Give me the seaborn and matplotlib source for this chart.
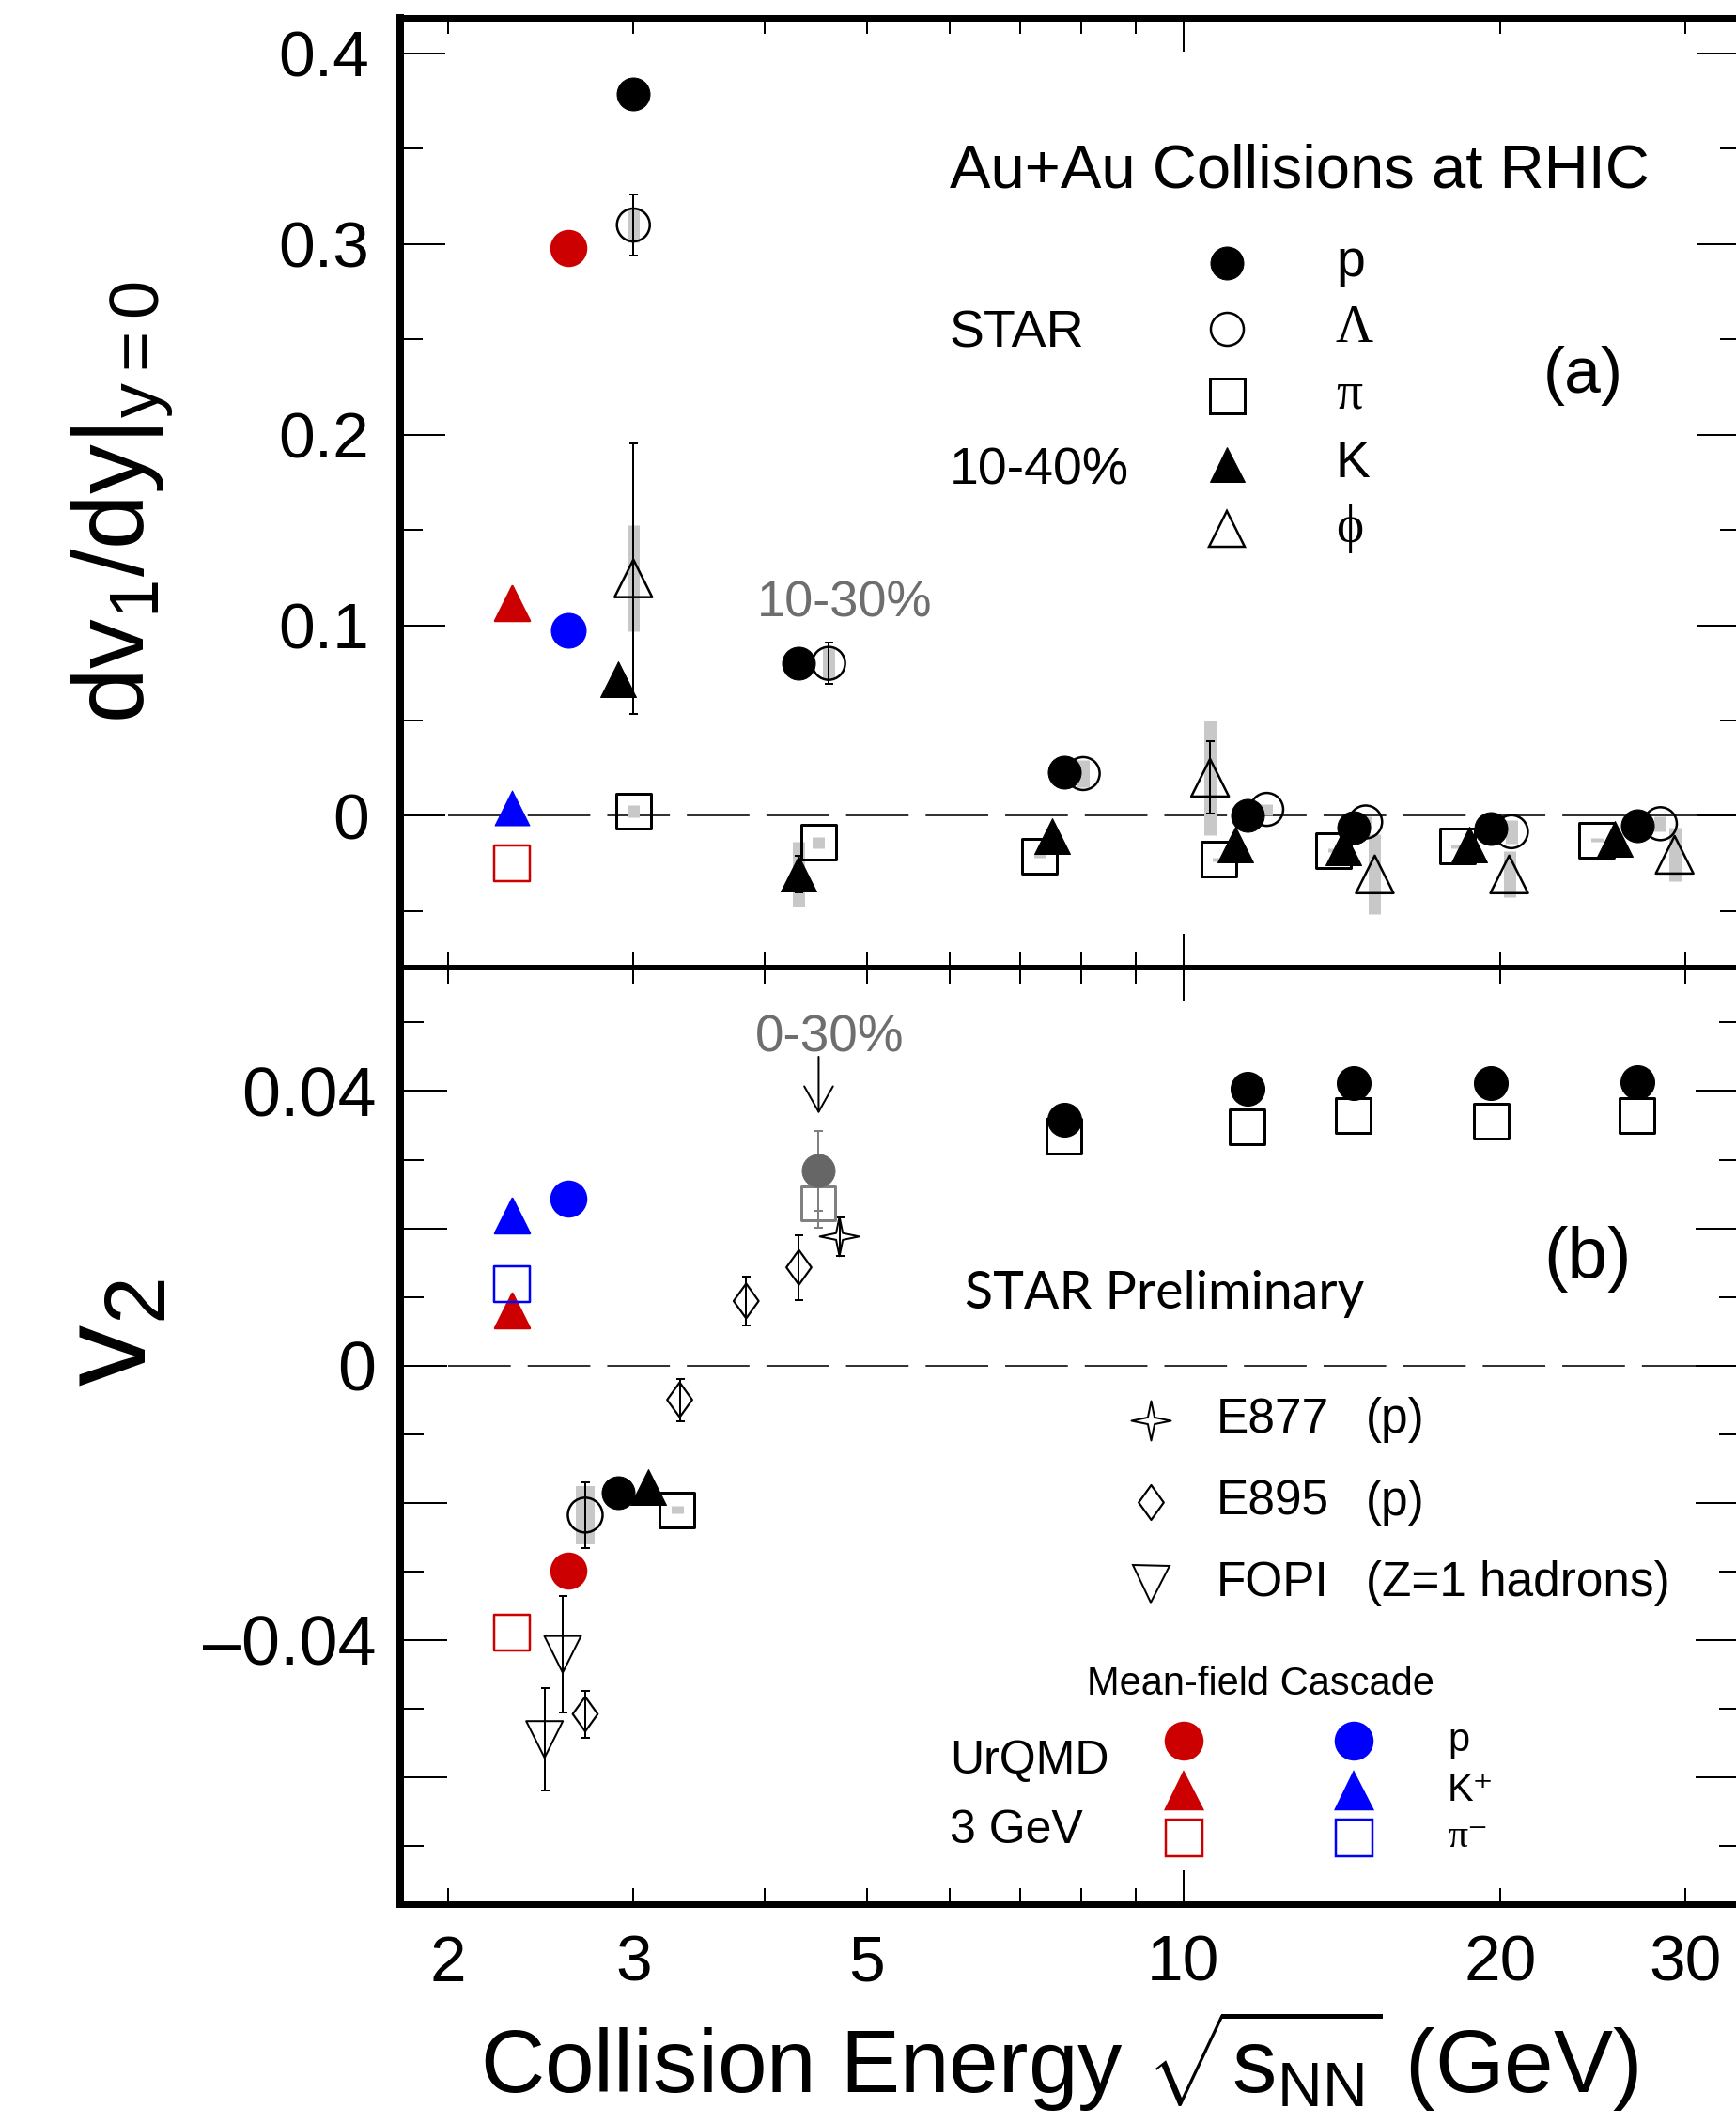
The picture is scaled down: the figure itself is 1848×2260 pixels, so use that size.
import numpy as np
import pandas as pd
import matplotlib
matplotlib.use("Agg")
import matplotlib.pyplot as plt
from matplotlib.path import Path
from matplotlib.lines import Line2D
from matplotlib.ticker import FixedLocator, MultipleLocator, FuncFormatter, NullFormatter
import seaborn as sns

# ---------------------------------------------------------------- data
# Panel (a): dv1/dy|y=0 , STAR 10-40% (10-30% at ~4.5 GeV)
p_a_E = [3.0, 4.31, 7.7, 11.5, 14.5, 19.6, 27.0]
p_a_v = [0.379, 0.080, 0.0228, 0.0004, -0.0062, -0.0068, -0.0053]

lam_a_E = [3.0, 4.6, 8.03, 12.0, 14.9, 20.5, 28.4]
lam_a_v = [0.310, 0.080, 0.0222, 0.0034, -0.0032, -0.0083, -0.0041]
lam_a_stat = [0.016, 0.011, 0.0, 0.0, 0.0, 0.0, 0.0]
lam_a_sys = [0.009, 0.008, 0.007, 0.003, 0.003, 0.006, 0.004]

pi_a_E = [3.0, 4.5, 7.3, 10.8, 13.9, 18.2, 24.7]
pi_a_v = [0.0025, -0.0139, -0.0211, -0.0227, -0.0181, -0.0158, -0.0128]
pi_a_sys = [0.003, 0.003, 0.001, 0.001, 0.001, 0.001, 0.001]

k_a_E = [2.9, 4.31, 7.5, 11.2, 14.2, 18.7, 25.7]
k_a_v = [0.0717, -0.0305, -0.0107, -0.0152, -0.0167, -0.0152, -0.0122]
k_a_stat = [0.0, 0.0096, 0.0, 0.0, 0.0, 0.0, 0.0]
k_a_sys = [0.0, 0.017, 0.0, 0.0, 0.0, 0.0, 0.0]

phi_a_E = [3.0, 10.6, 15.2, 20.4, 29.3]
phi_a_v = [0.1246, 0.0200, -0.0307, -0.0307, -0.0204]
phi_a_stat = [0.071, 0.019, 0.0, 0.0, 0.0]
phi_a_sys = [0.028, 0.030, 0.021, 0.012, 0.014]

# UrQMD 3 GeV (p, K+, pi-)
mf_a_E = [2.6, 2.3, 2.3]
mf_a_v = [0.298, 0.1118, -0.0247]
cas_a_E = [2.6, 2.3]
cas_a_v = [0.0972, 0.0042]

# Panel (b): v2
star3_E = [2.70, 2.90, 3.10, 3.30]          # Lambda, p, K, pi around 3 GeV
star3_v = [-0.0218, -0.0186, -0.0177, -0.0210]
star3_lam_stat = [0.0048]
star3_lam_sys = [0.0042]
star3_pi_sys = [0.0006]

star45_E = [4.5]
star45_p_v = [0.0284]
star45_p_err = [0.0058]
star45_pi_v = [0.0236]
star45_pi_err = [0.0035]

bes_E = [7.7, 11.5, 14.5, 19.6, 27.0]
bes_p_v = [0.0358, 0.0404, 0.0412, 0.0412, 0.0413]
bes_pi_v = [0.0334, 0.0348, 0.0365, 0.0356, 0.0365]

e877_E = [4.71]
e877_v = [0.0188]
e877_err = [0.0028]

e895_E = [2.70, 3.32, 3.84, 4.31]
e895_v = [-0.0508, -0.0050, 0.0094, 0.0143]
e895_err = [0.0034, 0.0031, 0.0036, 0.0047]

fopi_E = [2.47, 2.57]
fopi_v = [-0.0545, -0.0421]
fopi_err = [0.0075, 0.0085]

mf_b_E = [2.6, 2.3, 2.3]
mf_b_v = [-0.0299, 0.0080, -0.0389]
cas_b_E = [2.6, 2.3, 2.3]
cas_b_v = [0.0243, 0.0219, 0.0118]

urqmd_markers = ["o", "^", "s"]

x_tick_labels = [2, 3, 5, 10, 20, 30]
x_minor_ticks = [2, 3, 4, 5, 6, 7, 8, 9, 20, 30]
x_major_ticks = [10]
zero_line_start = 2.0

# ---------------------------------------------------------------- layout
W, H = 1848, 2260
PT = 0.72
X_LEFT, X_RIGHT = 426, 1855
A_TOP, A_BOT = 18.75, 1030
B_TOP, B_BOT = 1030, 2027
XLIM = (1.8008, 34.0)
YLIM_A = (-0.0796, 0.4188)
YLIM_B = (-0.0785, 0.0580)

RED = "#cc0000"
BLUE = "#0000ff"
SYS = "#c8c8c8"
GRAYTXT = "#6e6e6e"

sns.set_theme(style="ticks", rc={"axes.edgecolor": "black", "xtick.color": "black",
                                 "ytick.color": "black", "axes.facecolor": "white",
                                 "text.color": "black", "axes.labelcolor": "black"})
plt.rcParams["font.family"] = ["Liberation Sans", "DejaVu Sans"]
plt.rcParams["mathtext.fontset"] = "custom"
plt.rcParams["mathtext.rm"] = "Liberation Sans"
plt.rcParams["mathtext.it"] = "Liberation Sans:italic"
plt.rcParams["mathtext.bf"] = "Liberation Sans:bold"
plt.rcParams["lines.scale_dashes"] = False
plt.rcParams["xtick.labelcolor"] = "black"
plt.rcParams["ytick.labelcolor"] = "black"

fig = plt.figure(figsize=(W / 100, H / 100), dpi=100)


def rect(top, bot):
    return [X_LEFT / W, 1 - bot / H, (X_RIGHT - X_LEFT) / W, (bot - top) / H]


axa = fig.add_axes(rect(A_TOP, A_BOT))
axb = fig.add_axes(rect(B_TOP, B_BOT))

star_path = Path([(0, 1), (0.17, 0.17), (1, 0), (0.17, -0.17), (0, -1), (-0.17, -0.17),
                  (-1, 0), (-0.17, 0.17), (0, 1)], closed=True)
diamond_path = Path([(0, 1), (0.72, 0), (0, -1), (-0.72, 0), (0, 1)], closed=True)


def mark(ax, E, v, marker, size_px, fc, ec, lw_px, z):
    df = pd.DataFrame({"E": E, "v": v})
    sns.scatterplot(data=df, x="E", y="v", ax=ax, marker=marker, s=(size_px * PT) ** 2,
                    facecolor=fc, edgecolor=ec, linewidth=lw_px * PT, zorder=z, legend=False)


def sysband(ax, E, v, err, z=1, width_px=13):
    E, v, err = np.asarray(E, float), np.asarray(v, float), np.asarray(err, float)
    m = err > 0
    ax.vlines(E[m], v[m] - err[m], v[m] + err[m], colors=SYS, lw=width_px * PT, zorder=z)


def ebar(ax, E, v, err, color="black", z=2):
    E, v, err = np.asarray(E, float), np.asarray(v, float), np.asarray(err, float)
    m = err > 0
    ax.errorbar(E[m], v[m], yerr=err[m], fmt="none", ecolor=color, elinewidth=2 * PT,
                capsize=4.5 * PT, capthick=2 * PT, zorder=z)


for ax in (axa, axb):
    ax.set_xscale("log")

# ---------------------------------------------------------------- panel (a)
sysband(axa, lam_a_E, lam_a_v, lam_a_sys)
sysband(axa, pi_a_E, pi_a_v, pi_a_sys)
sysband(axa, k_a_E, k_a_v, k_a_sys)
sysband(axa, phi_a_E, phi_a_v, phi_a_sys)
ebar(axa, lam_a_E, lam_a_v, lam_a_stat)
ebar(axa, k_a_E, k_a_v, k_a_stat)
ebar(axa, phi_a_E, phi_a_v, phi_a_stat)

mark(axa, pi_a_E, pi_a_v, "s", 37, "none", "black", 3, 3)
mark(axa, lam_a_E, lam_a_v, "o", 35, "none", "black", 2.5, 3.5)
mark(axa, p_a_E, p_a_v, "o", 35, "black", "black", 1, 4)
mark(axa, k_a_E, k_a_v, "^", 38, "black", "black", 1, 5)
mark(axa, phi_a_E, phi_a_v, "^", 40, "none", "black", 2.5, 5.5)

for E, v, m in zip(mf_a_E, mf_a_v, urqmd_markers):
    filled = m != "s"
    mark(axa, [E], [v], m, 37 if m != "s" else 38, RED if filled else "none", RED, 2.5, 4)
for E, v, m in zip(cas_a_E, cas_a_v, urqmd_markers):
    mark(axa, [E], [v], m, 37, BLUE, BLUE, 1, 4)

# ---------------------------------------------------------------- panel (b)
sysband(axb, star3_E[:1], star3_v[:1], star3_lam_sys, width_px=20)
sysband(axb, star3_E[3:], star3_v[3:], star3_pi_sys)
ebar(axb, star3_E[:1], star3_v[:1], star3_lam_stat)
ebar(axb, star45_E, star45_p_v, star45_p_err, color="#808080")
ebar(axb, star45_E, star45_pi_v, star45_pi_err, color="#808080")
ebar(axb, e877_E, e877_v, e877_err)
ebar(axb, e895_E, e895_v, e895_err)
ebar(axb, fopi_E, fopi_v, fopi_err)

mark(axb, star3_E[:1], star3_v[:1], "o", 37, "none", "black", 2.5, 3.5)
mark(axb, star3_E[1:2], star3_v[1:2], "o", 35, "black", "black", 1, 4)
mark(axb, star3_E[2:3], star3_v[2:3], "^", 38, "black", "black", 1, 5)
mark(axb, star3_E[3:], star3_v[3:], "s", 37, "none", "black", 3, 5.2)

mark(axb, star45_E, star45_pi_v, "s", 36, "none", "#808080", 3, 3)
mark(axb, star45_E, star45_p_v, "o", 35, "#666666", "#666666", 1, 4)

mark(axb, bes_E, bes_pi_v, "s", 37, "none", "black", 3, 3)
mark(axb, bes_E, bes_p_v, "o", 36, "black", "black", 1, 4)

mark(axb, e877_E, e877_v, star_path, 42, "none", "black", 2, 4)
mark(axb, e895_E, e895_v, diamond_path, 37, "none", "black", 2.2, 4)
mark(axb, fopi_E, fopi_v, "v", 39, "none", "black", 2, 4)

for E, v, m in zip(mf_b_E, mf_b_v, urqmd_markers):
    filled = m != "s"
    mark(axb, [E], [v], m, 37 if m != "s" else 38, RED if filled else "none", RED, 2.5, 4)
for E, v, m in zip(cas_b_E, cas_b_v, urqmd_markers):
    filled = m != "s"
    mark(axb, [E], [v], m, 37 if m != "s" else 38, BLUE if filled else "none", BLUE, 2.5, 4)

# arrow pointing to the 0-30% points
axb.annotate("", xy=(star45_E[0], 0.0367), xytext=(star45_E[0], 0.0450),
             arrowprops=dict(arrowstyle="->,head_length=0.39,head_width=0.22",
                             lw=2 * PT, color="black", shrinkA=0, shrinkB=0,
                             mutation_scale=50), zorder=6)

# ---------------------------------------------------------------- axes styling
for ax, ylim in ((axa, YLIM_A), (axb, YLIM_B)):
    ax.set_xlim(*XLIM)
    ax.set_ylim(*ylim)
    ax.set_xlabel("")
    ax.set_ylabel("")
    ax.hlines(0, zero_line_start, XLIM[1], colors="#333333", lw=2 * PT,
              linestyles=(0, (48, 13)), zorder=0.5)
    ax.xaxis.set_major_locator(FixedLocator(x_major_ticks))
    ax.xaxis.set_minor_locator(FixedLocator(x_minor_ticks))
    ax.tick_params(axis="x", which="major", direction="in", length=36 * PT, width=2 * PT,
                   top=True, bottom=True)
    ax.tick_params(axis="x", which="minor", direction="in", length=17 * PT, width=2 * PT,
                   top=True, bottom=True)
    ax.spines["right"].set_visible(False)
    ax.spines["left"].set_linewidth(8 * PT)

axa.spines["top"].set_linewidth(7 * PT)
axa.spines["bottom"].set_linewidth(6 * PT)
axb.spines["top"].set_linewidth(6 * PT)
axb.spines["bottom"].set_linewidth(7 * PT)

axa.xaxis.set_major_formatter(NullFormatter())
axa.xaxis.set_minor_formatter(NullFormatter())


def xfmt(v, pos):
    for t in x_tick_labels:
        if abs(v - t) < 1e-6:
            return f"{t:g}"
    return ""


axb.xaxis.set_major_formatter(FuncFormatter(xfmt))
axb.xaxis.set_minor_formatter(FuncFormatter(xfmt))
axb.tick_params(axis="x", which="both", labelsize=50, pad=23, labelcolor="black")

axa.yaxis.set_major_locator(MultipleLocator(0.1))
axa.yaxis.set_minor_locator(MultipleLocator(0.05))
axa.yaxis.set_major_formatter(FuncFormatter(lambda v, p: "0" if abs(v) < 1e-9 else f"{v:.1f}"))
axa.tick_params(axis="y", which="major", direction="in", length=48 * PT, width=2 * PT,
                left=True, right=True, labelsize=50, pad=24, labelcolor="black")
axa.tick_params(axis="y", which="minor", direction="in", length=24 * PT, width=2 * PT,
                left=True, right=True)

y_b_labels = {0.04: "0.04", 0.0: "0", -0.04: "\u20130.04"}


def yfmt_b(v, pos):
    for k, s in y_b_labels.items():
        if abs(v - k) < 1e-9:
            return s
    return ""


axb.yaxis.set_major_locator(MultipleLocator(0.02))
axb.yaxis.set_minor_locator(MultipleLocator(0.01))
axb.yaxis.set_major_formatter(FuncFormatter(yfmt_b))
axb.tick_params(axis="y", which="major", direction="in", length=50 * PT, width=2 * PT,
                left=True, right=True, labelsize=53, pad=18.5, labelcolor="black")
axb.tick_params(axis="y", which="minor", direction="in", length=25 * PT, width=2 * PT,
                left=True, right=True)


# ---------------------------------------------------------------- texts & legends
def ftext(px, py, s, **kw):
    kw.setdefault("color", "black")
    fig.text(px / W, 1 - py / H, s, **kw)


def key(px, py, marker, size_px, fc, ec, lw_px):
    fig.add_artist(Line2D([px / W], [1 - py / H], transform=fig.transFigure, marker=marker,
                          ms=size_px * PT, mfc=fc, mec=ec, mew=lw_px * PT, ls="none"))


ftext(131, 535, r"$\mathregular{dv_{1}/dy|_{y=0}}$", rotation=90, ha="center", va="center",
      fontsize=76)
ftext(120, 1419, r"$\mathregular{v_{2}}$", rotation=90, ha="center", va="center", fontsize=94)
ftext(1128, 2228, r"Collision Energy $\mathregular{\sqrt{s_{NN}}}$ (GeV)", ha="center",
      va="baseline", fontsize=68)

# panel (a) legend
ftext(1011, 200, "Au+Au Collisions at RHIC", ha="left", va="baseline", fontsize=47)
ftext(1011, 370, "STAR", ha="left", va="baseline", fontsize=40)
ftext(1011, 515, "10-40%", ha="left", va="baseline", fontsize=40)
ftext(1643, 400, "(a)", ha="left", va="center", fontsize=50)
ftext(806, 656, "10-30%", ha="left", va="baseline", fontsize=39, color=GRAYTXT)

leg_a_rows = [280, 350, 421, 494, 563]
leg_a_keys = [("o", 35, "black", "black", 1), ("o", 35, "none", "black", 2.5),
              ("s", 37, "none", "black", 3), ("^", 37, "black", "black", 1),
              ("^", 38, "none", "black", 2.5)]
leg_a_text = ["p", "\u039b", "\u03c0", "K", "\u03d5"]
leg_a_serif = [False, True, True, False, True]
for row, k, t, serif in zip(leg_a_rows, leg_a_keys, leg_a_text, leg_a_serif):
    key(1306, row, *k)
    fam = ["Liberation Serif", "DejaVu Serif"] if serif else ["Liberation Sans", "DejaVu Sans"]
    ftext(1422, row, t, ha="left", va="center", fontsize=40, family=fam)

# panel (b) texts
ftext(804, 1119, "0-30%", ha="left", va="baseline", fontsize=39.5, color=GRAYTXT)
ftext(1027, 1393, "STAR Preliminary", ha="left", va="baseline", fontsize=40,
      family=["Lato", "DejaVu Sans"])
ftext(1643, 1340, "(b)", ha="left", va="center", fontsize=55)

exp_rows = [1512, 1599, 1686]
exp_keys = [(star_path, 42, "none", "black", 2), (diamond_path, 37, "none", "black", 2.2),
            ("v", 39, "none", "black", 2)]
exp_names = ["E877", "E895", "FOPI"]
exp_notes = ["(p)", "(p)", "(Z=1 hadrons)"]
for row, k, n, note in zip(exp_rows, exp_keys, exp_names, exp_notes):
    key(1225, row, *k)
    ftext(1295, row, n, ha="left", va="center", fontsize=37)
    ftext(1454, row, note, ha="left", va="center", fontsize=37)

ftext(1157, 1804, "Mean-field Cascade", ha="left", va="baseline", fontsize=30)
ftext(1011, 1888, "UrQMD", ha="left", va="baseline", fontsize=36)
ftext(1011, 1962, "3 GeV", ha="left", va="baseline", fontsize=36)
urq_rows = [1853, 1906, 1956]
urq_labels = ["p", "K\u207a", "\u03c0\u207b"]
urq_serif = [False, False, True]
for row, m, lab, serif in zip(urq_rows, urqmd_markers, urq_labels, urq_serif):
    filled = m != "s"
    key(1260, row, m, 39, RED if filled else "none", RED, 2.5)
    key(1441, row, m, 39, BLUE if filled else "none", BLUE, 2.5)
    fam = ["Liberation Serif", "DejaVu Serif"] if serif else ["Liberation Sans", "DejaVu Sans"]
    ftext(1541, row, lab, ha="left", va="center", fontsize=30, family=fam)

fig.savefig("out.png", dpi=100)
